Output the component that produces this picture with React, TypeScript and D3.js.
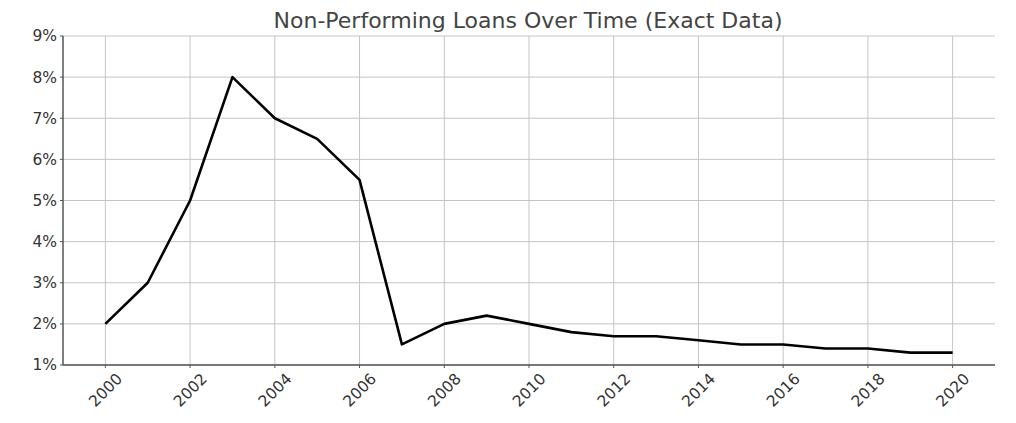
import React from "react";
import * as d3 from "d3";

const years = [
  2000, 2001, 2002, 2003, 2004, 2005, 2006, 2007, 2008, 2009, 2010, 2011, 2012,
  2013, 2014, 2015, 2016, 2017, 2018, 2019, 2020,
];
const nplRates = [
  2.0, 3.0, 5.0, 8.0, 7.0, 6.5, 5.5, 1.5, 2.0, 2.2, 2.0, 1.8, 1.7, 1.7, 1.6, 1.5,
  1.5, 1.4, 1.4, 1.3, 1.3,
];
const xTicks = [2000, 2002, 2004, 2006, 2008, 2010, 2012, 2014, 2016, 2018, 2020];
const yTicks = [1, 2, 3, 4, 5, 6, 7, 8, 9];
const title = "Non-Performing Loans Over Time (Exact Data)";

const width = 1016;
const height = 423;
const margin = { top: 36, right: 21, bottom: 58, left: 63 };
const font = "'DejaVu Sans', sans-serif";

const App: React.FC = () => {
  const x = d3
    .scaleLinear()
    .domain([1999, 2021])
    .range([margin.left, width - margin.right]);
  const y = d3
    .scaleLinear()
    .domain([1, 9])
    .range([height - margin.bottom, margin.top]);

  const line = d3
    .line<number>()
    .x((d, i) => x(years[i]))
    .y((d) => y(d));

  const bottom = height - margin.bottom;

  return (
    <svg
      width={width}
      height={height}
      style={{ position: "absolute", left: 0, top: 0, background: "#fff" }}
      fontFamily={font}
    >
      <text x={528} y={28} textAnchor="middle" fontSize={22} fill="#444">
        {title}
      </text>

      {/* grid */}
      {yTicks.map((t) => (
        <line
          key={"gy" + t}
          x1={margin.left}
          x2={width - margin.right}
          y1={y(t)}
          y2={y(t)}
          stroke="#c4c4c4"
          strokeWidth={1}
        />
      ))}
      {xTicks.map((t) => (
        <line
          key={"gx" + t}
          x1={x(t)}
          x2={x(t)}
          y1={margin.top}
          y2={bottom}
          stroke="#c4c4c4"
          strokeWidth={1}
        />
      ))}

      {/* series */}
      <path
        d={line(nplRates) || ""}
        fill="none"
        stroke="#000"
        strokeWidth={2.6}
        strokeLinejoin="round"
      />

      {/* axes */}
      <line
        x1={margin.left}
        x2={margin.left}
        y1={margin.top}
        y2={bottom}
        stroke="#555"
        strokeWidth={1.5}
      />
      <line
        x1={margin.left}
        x2={width - margin.right}
        y1={bottom}
        y2={bottom}
        stroke="#555"
        strokeWidth={1.5}
      />
      {yTicks.map((t) => (
        <g key={"ty" + t}>
          <line
            x1={margin.left - 3}
            x2={margin.left}
            y1={y(t)}
            y2={y(t)}
            stroke="#555"
          />
          <text
            x={margin.left - 6}
            y={y(t)}
            dy="0.35em"
            textAnchor="end"
            fontSize={15.5}
            fill="#333"
          >
            {t}%
          </text>
        </g>
      ))}
      {xTicks.map((t) => (
        <g key={"tx" + t}>
          <line
            x1={x(t)}
            x2={x(t)}
            y1={bottom}
            y2={bottom + 3}
            stroke="#555"
          />
          <text
            transform={`translate(${x(t)},${bottom + 25}) rotate(-45)`}
            dy="0.35em"
            textAnchor="middle"
            fontSize={15.5}
            fill="#333"
          >
            {t}
          </text>
        </g>
      ))}
    </svg>
  );
};

export default App;
